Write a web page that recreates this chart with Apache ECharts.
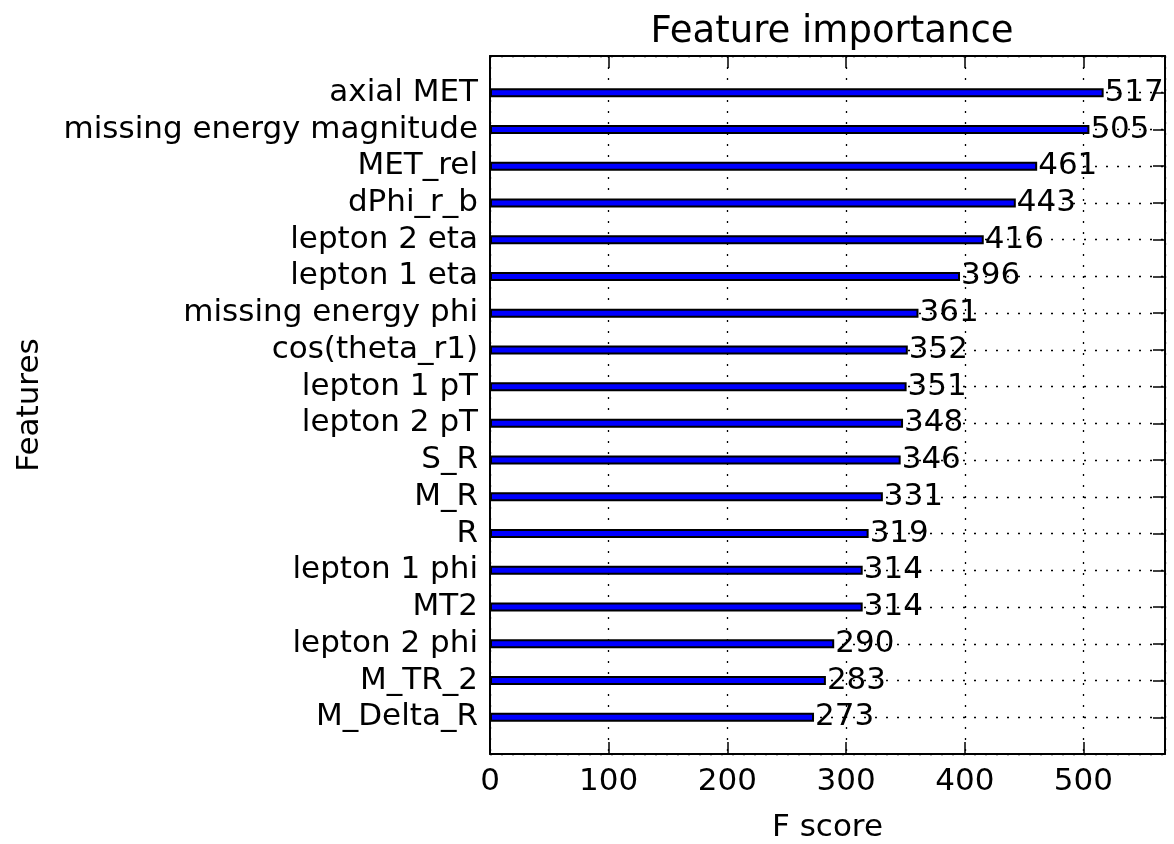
<!DOCTYPE html>
<html>
<head>
<meta charset="utf-8">
<title>Feature importance</title>
<script src="https://cdn.jsdelivr.net/npm/echarts@6/dist/echarts.min.js"></script>
<style>
  html, body { margin: 0; padding: 0; background: #fff; }
  #chart { width: 1174px; height: 844px; }
</style>
</head>
<body>
<div id="chart"></div>
<script>
// features, top to bottom
const features = [
  "axial MET", "missing energy magnitude", "MET_rel", "dPhi_r_b",
  "lepton 2 eta", "lepton 1 eta", "missing energy phi", "cos(theta_r1)",
  "lepton 1 pT", "lepton 2 pT", "S_R", "M_R", "R", "lepton 1 phi",
  "MT2", "lepton 2 phi", "M_TR_2", "M_Delta_R"
];
const scores = [517, 505, 461, 443, 416, 396, 361, 352, 351, 348, 346, 331, 319, 314, 314, 290, 283, 273];
const xTicks = [0, 100, 200, 300, 400, 500];

const FONT = "DejaVu Sans";
const fs = 31;

// one empty slot at each end so the bars sit on ticks like matplotlib (-1 .. 18)
const cats = [""].concat(features, [""]);
const vals = [null].concat(scores, [null]);
const xMax = Math.max(...scores) * 1.1;

const dotted = { color: "#000", width: 1.3, type: [2, 9] };
const frame = { show: true, onZero: false, lineStyle: { color: "#000", width: 2 } };
const tick = { show: true, inside: true, length: 12, lineStyle: { color: "#000", width: 1.5 } };

const chart = echarts.init(document.getElementById("chart"), null, { renderer: "canvas" });

const option = {
  backgroundColor: "#fff",
  animation: false,
  textStyle: { fontFamily: FONT, color: "#000" },
  title: {
    text: "Feature importance",
    left: 827, top: 9, textAlign: "center",
    textStyle: { fontFamily: FONT, fontSize: 37, fontWeight: "normal", color: "#000" }
  },
  grid: { left: 490, right: 9, top: 56, bottom: 90, containLabel: false, outerBoundsMode: "none" },
  xAxis: [
    {
      type: "value", min: 0, max: xMax, interval: 100,
      name: "F score", nameLocation: "middle", nameGap: 58,
      nameTextStyle: { fontFamily: FONT, fontSize: fs, color: "#000" },
      axisLine: frame,
      axisTick: tick,
      axisLabel: {
        fontFamily: FONT, fontSize: fs, color: "#000", margin: 12,
        showMaxLabel: false,
        formatter: v => (xTicks.indexOf(v) >= 0 ? String(v) : "")
      },
      splitLine: { show: true, lineStyle: dotted }
    },
    {
      type: "value", position: "top", min: 0, max: xMax, interval: 100,
      axisLine: frame,
      axisTick: tick,
      axisLabel: { show: false },
      splitLine: { show: false }
    }
  ],
  yAxis: [
    {
      type: "category", data: cats, inverse: true, boundaryGap: false,
      name: "Features", nameLocation: "middle", nameGap: 445, nameRotate: 90,
      nameTextStyle: { fontFamily: FONT, fontSize: fs, color: "#000" },
      axisLine: frame,
      axisTick: Object.assign({ interval: 0 }, tick),
      axisLabel: { fontFamily: FONT, fontSize: fs, color: "#000", margin: 12, interval: 0 },
      splitLine: { show: true, interval: 0, lineStyle: dotted }
    },
    {
      type: "category", data: cats, inverse: true, boundaryGap: false, position: "right",
      axisLine: frame,
      axisTick: Object.assign({ interval: 0 }, tick),
      axisLabel: { show: false },
      splitLine: { show: false }
    }
  ],
  series: [
    {
      type: "bar",
      data: vals,
      barWidth: 9,
      itemStyle: { color: "#0000ff", borderColor: "#000", borderWidth: 2 },
      label: {
        show: true, position: "right", distance: 1,
        fontFamily: FONT, fontSize: fs, color: "#000"
      }
    }
  ]
};

chart.setOption(option);
</script>
</body>
</html>
